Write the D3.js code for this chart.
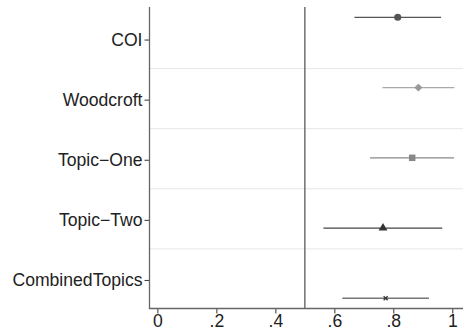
<!DOCTYPE html>
<html>
<head>
<meta charset="utf-8" />
<title>Coefficient plot</title>
<script src="https://d3js.org/d3.v7.min.js"></script>
<style>
    body { margin: 0; background: white; }
    text { font-family: "Liberation Sans", Arial, Helvetica, sans-serif; }
</style>
</head>
<body>
<div id="chart"></div>
<script>

    // data
    let categories = ["COI", "Woodcroft", "Topic\u2212One", "Topic\u2212Two", "CombinedTopics"];
    let estimates = [0.815, 0.885, 0.864, 0.765, 0.774];
    let lower = [0.668, 0.763, 0.721, 0.563, 0.627];
    let upper = [0.962, 1.007, 1.006, 0.966, 0.921];
    let xTicks = [0, 0.2, 0.4, 0.6, 0.8, 1];
    let xTickLabels = ["0", ".2", ".4", ".6", ".8", "1"];
    let refValue = 0.5;

    let width = 463, height = 333;
    let plotLeft = 149.5, plotTop = 8, plotBottom = 308.5;

    let svg = d3.select("#chart").append("svg")
        .attr("width", width)
        .attr("height", height);

    let x = d3.scaleLinear().domain([0, 1]).range([157.4, 452.3]);

    // bands give the gridlines and label positions
    let yBand = d3.scaleBand().domain(categories).range([plotTop, plotBottom]);
    // the markers sit on their own spacing, like in the original
    let yMark = d3.scalePoint().domain(categories).range([17.3, 298.3]);

    let diamond = { draw: function (ctx, size) {
        let r = Math.sqrt(size) * 0.62;
        ctx.moveTo(0, -r); ctx.lineTo(r * 1.05, 0); ctx.lineTo(0, r); ctx.lineTo(-r * 1.05, 0); ctx.closePath();
    } };

    let styles = [
        { line: "#555555", fill: "#555555", sym: d3.symbolCircle, size: 40 },
        { line: "#aaaaaa", fill: "#999999", sym: diamond, size: 40 },
        { line: "#888888", fill: "#888888", sym: d3.symbolSquare, size: 42 },
        { line: "#444444", fill: "#333333", sym: d3.symbolTriangle, size: 34 },
        { line: "#777777", fill: "#333333", sym: d3.symbolCross, size: 0 }
    ];

    // gridlines between categories
    svg.append("g").selectAll("line")
        .data(categories.slice(1))
        .enter().append("line")
        .attr("x1", plotLeft).attr("x2", width)
        .attr("y1", d => yBand(d) + 0.5)
        .attr("y2", d => yBand(d) + 0.5)
        .style("stroke", "#e6e6e6")
        .style("stroke-width", 1);

    // reference line
    svg.append("line")
        .attr("x1", x(refValue)).attr("x2", x(refValue))
        .attr("y1", plotTop - 1).attr("y2", plotBottom)
        .style("stroke", "#666666")
        .style("stroke-width", 1.4);

    // confidence intervals
    svg.append("g").selectAll("line")
        .data(categories)
        .enter().append("line")
        .attr("x1", (d, i) => x(lower[i]))
        .attr("x2", (d, i) => x(upper[i]))
        .attr("y1", d => yMark(d))
        .attr("y2", d => yMark(d))
        .style("stroke", (d, i) => styles[i].line)
        .style("stroke-width", (d, i) => i == 4 ? 1.6 : 1.2);

    // point estimates
    let marks = svg.append("g").selectAll("g")
        .data(categories)
        .enter().append("g")
        .attr("transform", (d, i) => "translate(" + x(estimates[i]) + "," + yMark(d) + ")");

    marks.filter((d, i) => i < 4)
        .append("path")
        .attr("d", (d, i) => d3.symbol().type(styles[i].sym).size(styles[i].size)())
        .style("fill", (d, i) => styles[i].fill);

    marks.filter((d, i) => i == 4)
        .append("path")
        .attr("d", "M-2,-2L2,2M-2,2L2,-2")
        .style("stroke", "#333333")
        .style("stroke-width", 1.3);

    // y axis
    let yAxis = d3.axisLeft(yBand).tickSize(5).tickPadding(2);
    let gy = svg.append("g")
        .attr("transform", "translate(" + plotLeft + ",0)")
        .call(yAxis);
    gy.select(".domain").remove();
    gy.selectAll(".tick line").style("stroke", "#333333");
    gy.selectAll(".tick").attr("transform", d => "translate(0," + (yBand(d) + yBand.bandwidth() / 2 + 2) + ")");
    gy.selectAll(".tick text")
        .style("font-size", "17.6px")
        .style("fill", "#222222");

    svg.append("line")
        .attr("x1", plotLeft).attr("x2", plotLeft)
        .attr("y1", plotTop - 1).attr("y2", plotBottom)
        .style("stroke", "#666666")
        .style("stroke-width", 1.3);

    // x axis
    let xAxis = d3.axisBottom(x).tickValues(xTicks)
        .tickFormat((d, i) => xTickLabels[i])
        .tickSize(5).tickPadding(1);
    let gx = svg.append("g")
        .attr("transform", "translate(0," + plotBottom + ")")
        .call(xAxis);
    gx.select(".domain").remove();
    gx.selectAll(".tick line").style("stroke", "#333333");
    gx.selectAll(".tick text")
        .style("font-size", "17.6px")
        .style("fill", "#222222");

    svg.append("line")
        .attr("x1", plotLeft - 0.6).attr("x2", width)
        .attr("y1", plotBottom).attr("y2", plotBottom)
        .style("stroke", "#666666")
        .style("stroke-width", 1.3);

</script>
</body>
</html>
